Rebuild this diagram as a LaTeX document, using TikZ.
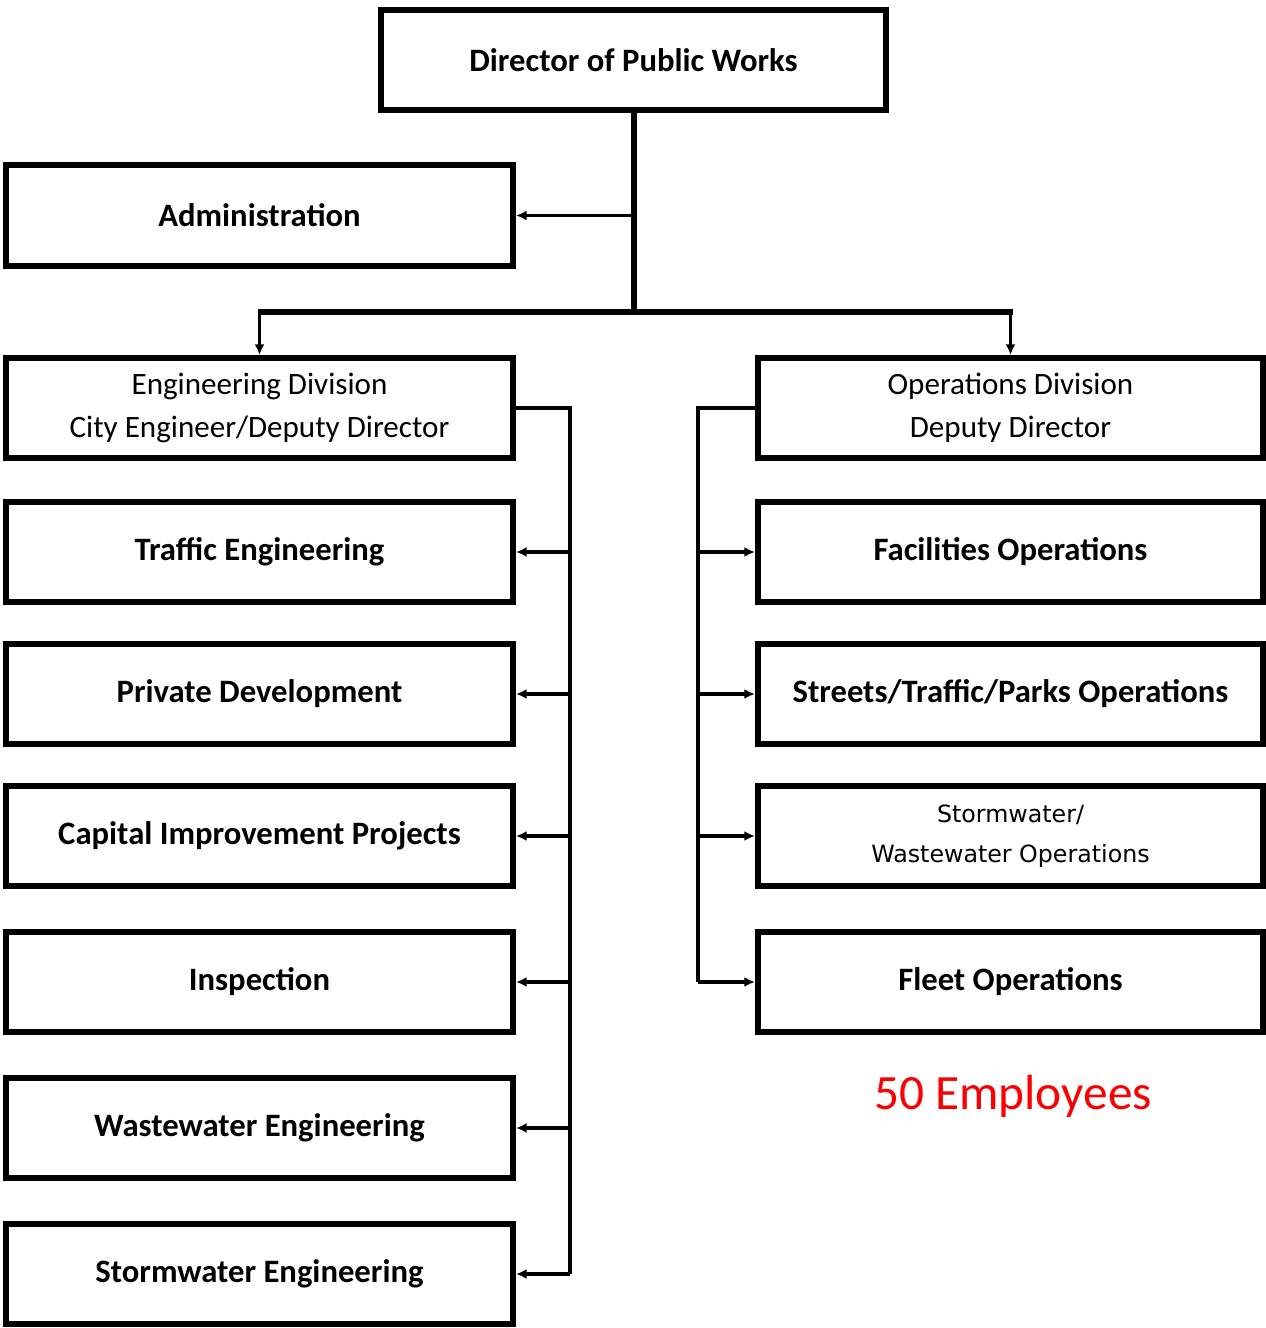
\documentclass[tikz,border=0pt]{standalone}
\usepackage{fontspec}
\setmainfont{Carlito}
\newfontfamily\widefont{DejaVu Sans}
\usetikzlibrary{arrows.meta}
\definecolor{empred}{RGB}{250,0,0}
\tikzset{
  box/.style={draw=black, line width=4.5pt, rectangle, inner sep=0pt, align=center,
     minimum height=75pt, font=\fontsize{24.5}{32}\selectfont\bfseries},
  lbox/.style={box, minimum width=380.25pt},
  rbox/.style={box, minimum width=378.75pt},
  divtext/.style={font=\fontsize{23.3}{32}\selectfont},
  trunk/.style={line width=5pt},
  bar/.style={line width=3.8pt},
  bus/.style={line width=2.4pt},
  arr/.style={line width=2.4pt, -{Latex[length=8pt,width=7.5pt]}},
}
\begin{document}
\begin{tikzpicture}[x=0.75pt,y=-0.75pt]
\useasboundingbox (0,0) rectangle (1266,1328);
% top
\node[box, minimum width=378.75pt] (dir) at (633.5,60) {Director of Public Works};
\node[lbox, minimum height=75.75pt] (admin) at (259.5,215.5) {Administration};
% left column
\node[lbox, divtext] (eng) at (259.5,408) {Engineering Division\\City Engineer/Deputy Director};
\node[lbox] (te)  at (259.5,552) {Traffic Engineering};
\node[lbox] (pd)  at (259.5,694) {Private Development};
\node[lbox] (cip) at (259.5,836) {Capital Improvement Projects};
\node[lbox] (ins) at (259.5,982) {Inspection};
\node[lbox] (we)  at (259.5,1128) {Wastewater Engineering};
\node[lbox] (se)  at (259.5,1274) {Stormwater Engineering};
% right column
\node[rbox, divtext] (ops) at (1010.5,408) {Operations Division\\Deputy Director};
\node[rbox] (fac) at (1010.5,552) {Facilities Operations};
\node[rbox] (str) at (1010.5,694) {Streets/Traffic/Parks Operations};
\node[rbox, font=\widefont\fontsize{17.8}{30}\selectfont] (sww) at (1010.5,836) {Stormwater/\\Wastewater Operations};
\node[rbox] (fleet) at (1010.5,982) {Fleet Operations};
% label
\node[text=empred, font=\fontsize{37}{44}\selectfont] (emp) at (1013,1096) {50 Employees};
% connectors
\coordinate (hub) at (634,312);
\coordinate (ebus) at (570,0);
\coordinate (obus) at (698,0);
\draw[trunk] (dir.south -| hub) -- (hub);
\draw[arr] (hub |- admin.east) -- (admin.east);
\draw[bar] ([xshift=-1.5pt]eng.north |- hub) -- ([xshift=1.5pt]ops.north |- hub);
\draw[arr] (eng.north |- hub) -- (eng.north);
\draw[arr] (ops.north |- hub) -- (ops.north);
% engineering bus
\draw[bus] (eng.east) -| (ebus |- se.east);
\draw[arr] (ebus |- se.east) -- (se.east);
\draw[arr] (ebus |- te.east) -- (te.east);
\draw[arr] (ebus |- pd.east) -- (pd.east);
\draw[arr] (ebus |- cip.east) -- (cip.east);
\draw[arr] (ebus |- ins.east) -- (ins.east);
\draw[arr] (ebus |- we.east) -- (we.east);
% operations bus
\draw[bus] (ops.west) -| (obus |- fleet.west);
\draw[arr] (obus |- fleet.west) -- (fleet.west);
\draw[arr] (obus |- fac.west) -- (fac.west);
\draw[arr] (obus |- str.west) -- (str.west);
\draw[arr] (obus |- sww.west) -- (sww.west);
\end{tikzpicture}
\end{document}
